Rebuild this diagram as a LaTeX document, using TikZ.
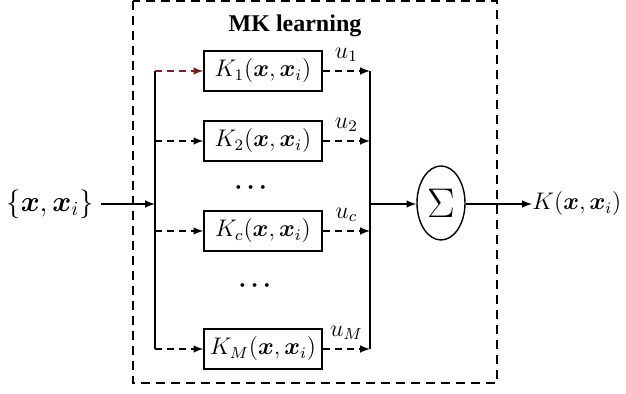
\documentclass[tikz,border=0pt]{standalone}
\usepackage{amsmath}
\usepackage{bm}
\usepackage{fontspec}
\setmainfont{Liberation Serif}
\usepackage{tikz}
\usetikzlibrary{shapes.geometric}
\definecolor{darkred}{HTML}{7A1F1F}

\begin{document}
\begin{tikzpicture}[x=0.5pt, y=0.5pt,
  kbox/.style={draw, line width=0.7pt, minimum width=59pt, minimum height=20pt,
    inner sep=0pt, font=\large},
  link/.style={line width=0.7pt, -latex},
  dlink/.style={link, dash pattern=on 3.5pt off 2.5pt}]
  \useasboundingbox (0,0) rectangle (626,394);

  % Cornice tratteggiata
  \draw[line width=0.7pt, dash pattern=on 4.5pt off 3pt] (133,393) rectangle (497,11);
  \node[font=\large\bfseries] (title) at (295,368) {MK learning};

  % Nuclei
  \node[kbox] (k1) at (263,323) {$K_1(\bm{x},\bm{x}_i)$};
  \node[kbox] (k2) at (263,253) {$K_2(\bm{x},\bm{x}_i)$};
  \node[kbox] (kc) at (263,163) {$K_c(\bm{x},\bm{x}_i)$};
  \node[kbox] (kM) at (263,45)  {$K_M(\bm{x},\bm{x}_i)$};
  \node[font=\large] (dots1) at (253,206) {$\boldsymbol{\cdots}$};
  \node[font=\large] (dots2) at (257,108) {$\boldsymbol{\cdots}$};

  % Bus sinistro e destro
  \coordinate (lb) at (155,190);
  \coordinate (rb) at (370,190);

  % Ingresso, somma, uscita
  \node[font=\Large] (in) at (50,190) {$\{\bm{x},\bm{x}_i\}$};
  \node[draw, ellipse, line width=0.7pt, minimum width=24pt, minimum height=37pt,
    inner sep=0pt, font=\huge] (sum) at (441,191) {$\Sigma$};
  \node[anchor=west, inner sep=0pt, font=\large] (out) at (532,190) {$K(\bm{x},\bm{x}_i)$};

  \draw[line width=0.7pt] (k1.west -| lb) -- (kM.west -| lb);
  \draw[line width=0.7pt] (k1.east -| rb) -- (kM.east -| rb);

  % Collegamenti
  \draw[link] (in) -- (lb);
  \draw[dlink, darkred] (k1.west -| lb) -- (k1.west);
  \foreach \k in {k2,kc,kM}
    \draw[dlink] (\k.west -| lb) -- (\k.west);
  \foreach \k/\u in {k1/1,k2/2,kc/c,kM/M}
    \draw[dlink] (\k.east) -- node[above, yshift=1pt, font=\large] {$u_{\u}$} (\k.east -| rb);
  \draw[link] (rb) -- (rb -| sum.west);
  \draw[link] (sum.east |- rb) -- (out.west);
\end{tikzpicture}
\end{document}
